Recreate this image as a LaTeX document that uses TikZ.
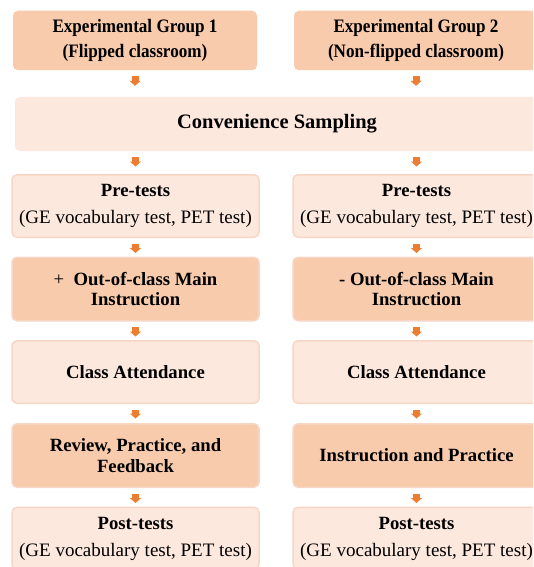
\documentclass[tikz,border=0pt]{standalone}
\usepackage{fontspec}
\setmainfont{Liberation Serif}
\newfontfamily\titlefont{Liberation Serif}[FakeStretch=0.9]
\usetikzlibrary{arrows.meta}
\definecolor{darkfill}{HTML}{F8CBAD}
\definecolor{lightfill}{HTML}{FCE8DD}
\definecolor{boxedge}{HTML}{F7D6C6}
\definecolor{arrowc}{HTML}{ED7D31}
\tikzset{
  basebox/.style={rectangle, rounded corners=5pt, inner sep=0pt, align=center, text=black},
  titlebox/.style={basebox, fill=darkfill, minimum width=244pt, minimum height=59.5pt,
    font=\titlefont\bfseries\fontsize{19}{25}\selectfont},
  sampbox/.style={basebox, fill=lightfill, minimum width=524pt, minimum height=54pt,
    font=\bfseries\fontsize{20.5}{24}\selectfont},
  lightbox/.style={basebox, fill=lightfill, draw=boxedge, line width=1.5pt,
    minimum width=247pt, minimum height=62.5pt},
  darkbox/.style={basebox, fill=darkfill, draw=boxedge, line width=1.5pt,
    minimum width=247pt, minimum height=63.5pt},
  boldtxt/.style={font=\bfseries\fontsize{18.7}{20.5}\selectfont},
  testtxt/.style={font=\fontsize{19}{27}\selectfont},
  flow/.style={draw=arrowc, line width=7pt, -{Triangle[width=11pt,length=5pt]}, shorten <=5.5pt},
}
\begin{document}
\begin{tikzpicture}[x=1pt,y=-1pt]
\useasboundingbox (0,0) rectangle (533,567);
\clip (0,0) rectangle (533,567);
% top
\node[titlebox] (T1) at (135,40.5) {Experimental Group 1\\(Flipped classroom)};
\node[titlebox] (T2) at (416,40.5) {Experimental Group 2\\(Non-flipped classroom)};
% sampling
\node[sampbox] (S) at (277,124) {Convenience Sampling};
% pre-tests
\node[lightbox, testtxt] (P1) at (135.5,206) {{\bfseries\fontsize{18.7}{27}\selectfont Pre-tests}\\(GE vocabulary test, PET test)};
\node[lightbox, testtxt] (P2) at (416.5,206) {{\bfseries\fontsize{18.7}{27}\selectfont Pre-tests}\\(GE vocabulary test, PET test)};
% out-of-class
\node[darkbox, boldtxt] (O1) at (135.5,289) {{\mdseries +}\ \ Out-of-class Main\\Instruction};
\node[darkbox, boldtxt] (O2) at (416.5,289) {- Out-of-class Main\\Instruction};
% class attendance
\node[lightbox, boldtxt] (A1) at (135.5,372) {Class Attendance};
\node[lightbox, boldtxt] (A2) at (416.5,372) {Class Attendance};
% review / instruction
\node[darkbox, boldtxt] (R1) at (135.5,455.5) {Review, Practice, and\\Feedback};
\node[darkbox, boldtxt] (R2) at (416.5,455.5) {Instruction and Practice};
% post-tests
\node[lightbox, testtxt] (Q1) at (135.5,538.5) {{\bfseries\fontsize{18.7}{27}\selectfont Post-tests}\\(GE vocabulary test, PET test)};
\node[lightbox, testtxt] (Q2) at (416.5,538.5) {{\bfseries\fontsize{18.7}{27}\selectfont Post-tests}\\(GE vocabulary test, PET test)};
% arrows
\draw[flow, shorten >=11pt] (T1.south) -- (T1.south |- S.north);
\draw[flow, shorten >=11pt] (T2.south) -- (T2.south |- S.north);
\draw[flow, shorten >=7.5pt] (S.south -| P1.north) -- (P1.north);
\draw[flow, shorten >=7.5pt] (S.south -| P2.north) -- (P2.north);
\draw[flow, shorten >=3.5pt] (P1.south) -- (O1.north);
\draw[flow, shorten >=3.5pt] (P2.south) -- (O2.north);
\draw[flow, shorten >=3.5pt] (O1.south) -- (A1.north);
\draw[flow, shorten >=3.5pt] (O2.south) -- (A2.north);
\draw[flow, shorten >=4.5pt] (A1.south) -- (R1.north);
\draw[flow, shorten >=4.5pt] (A2.south) -- (R2.north);
\draw[flow, shorten >=3.5pt] (R1.south) -- (Q1.north);
\draw[flow, shorten >=3.5pt] (R2.south) -- (Q2.north);
\end{tikzpicture}
\end{document}
